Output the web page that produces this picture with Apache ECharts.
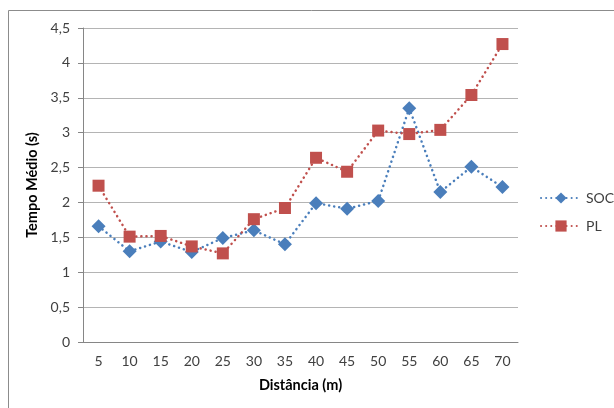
<!DOCTYPE html>
<html>
<head>
<meta charset="utf-8">
<script src="https://cdn.jsdelivr.net/npm/echarts@6/dist/echarts.min.js"></script>
<style>
html,body{margin:0;padding:0;background:#fff;}
#chart{width:614px;height:408px;}
</style>
</head>
<body>
<div id="chart"></div>
<script>
const categories = ['5','10','15','20','25','30','35','40','45','50','55','60','65','70'];
const socValues = [1.66,1.30,1.44,1.29,1.49,1.60,1.40,1.99,1.91,2.02,3.35,2.15,2.51,2.22];
const plValues = [2.24,1.51,1.52,1.37,1.27,1.76,1.92,2.64,2.44,3.03,2.98,3.04,3.54,4.27];
const seriesNames = ['SOC','PL'];
const yTicks = ['0','0,5','1','1,5','2','2,5','3','3,5','4','4,5'];

const FONT = 'Lato, "Open Sans", sans-serif';
const chart = echarts.init(document.getElementById('chart'), null, {renderer:'canvas'});
const dotted = [0.1, 5];
chart.setOption({
  animation:false,
  backgroundColor:'#fff',
  graphic:[{
    type:'rect', silent:true, z:-1,
    shape:{x:8.5,y:10.5,width:700,height:500},
    style:{fill:'none',stroke:'#8c8c8c',lineWidth:1}
  }],
  grid:{left:83,top:28,width:435,height:314,containLabel:false},
  legend:{
    orient:'vertical', left:540, top:191, padding:0, itemWidth:40, itemHeight:14, itemGap:14,
    textStyle:{fontFamily:FONT,fontSize:14,color:'#404040'},
    data:seriesNames
  },
  xAxis:{
    type:'category', data:categories, boundaryGap:true,
    name:'Distância (m)', nameLocation:'middle', nameGap:36,
    nameTextStyle:{fontFamily:FONT,fontSize:14.5,fontWeight:'bold',color:'#000'},
    axisLine:{lineStyle:{color:'#868686',width:1}},
    axisTick:{show:false},
    axisLabel:{fontFamily:FONT,fontSize:14,color:'#404040',margin:12},
    splitLine:{show:false}
  },
  yAxis:{
    type:'value', min:0, max:4.5, interval:0.5,
    name:'Tempo Médio (s)', nameLocation:'middle', nameGap:36, nameRotate:90,
    nameTextStyle:{fontFamily:FONT,fontSize:14.5,fontWeight:'bold',color:'#000'},
    axisLine:{show:true,lineStyle:{color:'#868686',width:1}},
    axisTick:{show:true,length:5,lineStyle:{color:'#868686'}},
    axisLabel:{fontFamily:FONT,fontSize:14,color:'#404040',margin:13,
      formatter:function(v){ return yTicks[Math.round(v/0.5)]; }},
    splitLine:{lineStyle:{color:'#b4b4b4',width:1}}
  },
  series:[
    {name:seriesNames[0], type:'line', data:socValues, symbol:'diamond', symbolSize:14,
     itemStyle:{color:'#4a7ebb'},
     lineStyle:{color:'#4a7ebb',width:2.5,type:dotted,cap:'round'}},
    {name:seriesNames[1], type:'line', data:plValues, symbol:'rect', symbolSize:12,
     itemStyle:{color:'#c0504d'},
     lineStyle:{color:'#c0504d',width:2.5,type:dotted,cap:'round'}}
  ]
});
</script>
</body>
</html>
